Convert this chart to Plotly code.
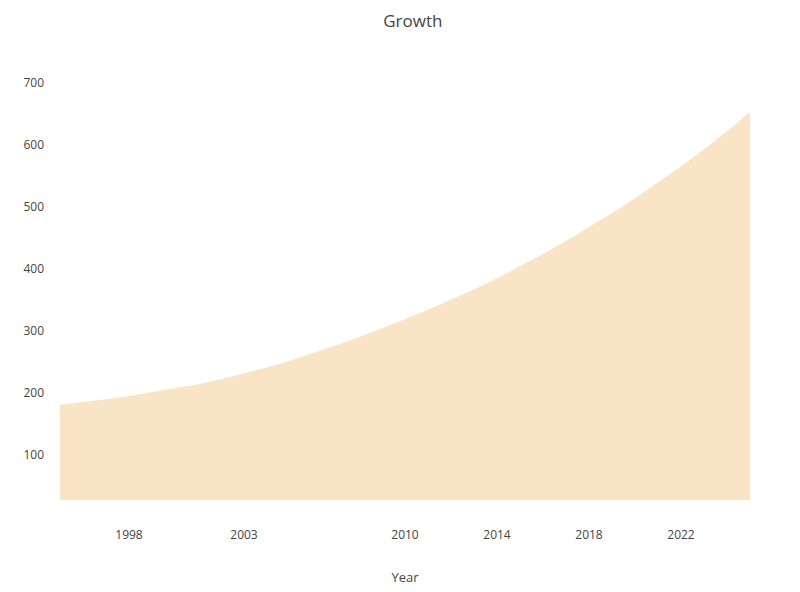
import plotly.graph_objects as go

# yearly values
years = list(range(1995, 2026))
values = [181, 185, 190, 195, 201, 207, 214, 222, 231, 241,
          252, 264, 277, 290, 304, 319, 334, 350, 367, 385,
          404, 424, 445, 467, 490, 514, 539, 565, 593, 622, 653]

x_ticks = [1998, 2003, 2010, 2014, 2018, 2022]
x_tick_labels = ["1998", "2003", "2010", "2014", "2018", "2022"]
y_ticks = [100, 200, 300, 400, 500, 600, 700]

fig = go.Figure()
fig.add_trace(go.Scatter(
    x=years, y=values,
    mode="lines",
    fill="tozeroy",
    fillcolor="#F9E4C5",
    line=dict(width=0, color="#F9E4C5"),
    hoverinfo="x+y",
    showlegend=False,
))

fig.update_layout(
    width=800, height=592,
    template="plotly_white",
    plot_bgcolor="white",
    paper_bgcolor="white",
    font=dict(family="Open Sans", size=12, color="#444"),
    title=dict(text="Growth", x=0.506, xanchor="center", y=0.978, yanchor="middle",
               font=dict(size=17, color="#444")),
    margin=dict(l=52, r=58, t=60, b=100),
    xaxis=dict(
        range=[1995, 2025],
        tickvals=x_ticks, ticktext=x_tick_labels,
        showgrid=False, zeroline=False,
        automargin=False,
        ticklabelstandoff=26,
        title=dict(text="Year", standoff=30, font=dict(size=13)),
    ),
    yaxis=dict(
        range=[27.4, 724],
        tickvals=y_ticks,
        showgrid=False, zeroline=False,
        automargin=False,
        ticklabelstandoff=15,
    ),
)

fig.write_html("out.html")
